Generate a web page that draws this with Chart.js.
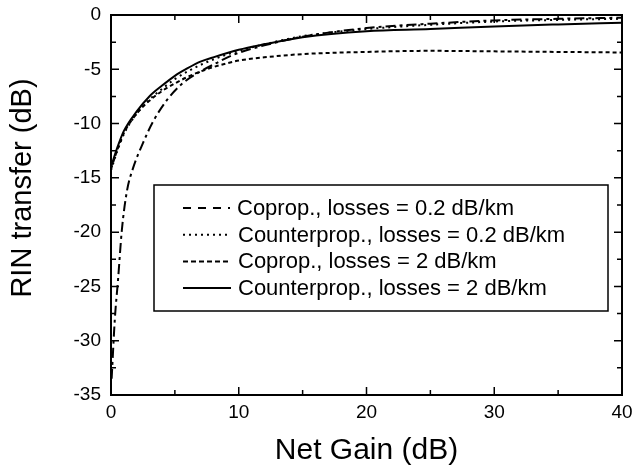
<!DOCTYPE html>
<html>
<head>
<meta charset="utf-8">
<script src="https://cdn.jsdelivr.net/npm/chart.js@4"></script>
<style>
  html, body { margin: 0; padding: 0; background: #fff; }
  #wrap { width: 635px; height: 471px; }
</style>
</head>
<body>
<div id="wrap"><canvas id="c"></canvas></div>
<script>
// net gain (dB) sampling for the three smooth curves
const gain = [0, 0.5, 1, 2, 3, 4, 5, 6, 7, 8, 10, 12, 15, 20, 25, 30, 35, 40];
// steep coprop 0.2 dB/km curve is sampled finer near zero
const gainSteep = [0.05, 0.3, 0.55, 0.85, 1.25, 1.7, 2.5, 3.3, 4.4, 5.6, 7, 8.3, 9.5, 12, 15, 20, 25, 30, 35, 40];

const rinCoprop02 = [-33.5, -28, -24.4, -19.8, -16.2, -14.2, -11.8, -9.8, -7.8, -6.3, -5.2, -4.4, -3.7, -2.8, -2.0, -1.2, -0.8, -0.5, -0.35, -0.25];
const rinCounter02 = [-14.3, -12.5, -11.0, -9.1, -7.8, -6.8, -5.9, -5.2, -4.6, -4.1, -3.3, -2.7, -1.95, -1.3, -0.9, -0.6, -0.45, -0.35];
const rinCoprop2 = [-14.2, -12.4, -10.9, -9.1, -7.9, -7.0, -6.3, -5.7, -5.2, -4.8, -4.2, -3.9, -3.6, -3.4, -3.3, -3.35, -3.4, -3.45];
const rinCounter2 = [-14.0, -12.2, -10.7, -8.9, -7.5, -6.5, -5.6, -4.9, -4.3, -3.9, -3.2, -2.7, -2.05, -1.5, -1.3, -1.05, -0.87, -0.72];

const labels = [
  'Coprop., losses = 0.2 dB/km',
  'Counterprop., losses = 0.2 dB/km',
  'Coprop., losses = 2 dB/km',
  'Counterprop., losses = 2 dB/km'
];

const xTicks = [0, 10, 20, 30, 40];
const yTicks = [0, -5, -10, -15, -20, -25, -30, -35];
const yTitle = 'RIN transfer (dB)';

const FONT = '"Liberation Sans", Arial, sans-serif';

function pts(xs, ys) {
  return xs.map((x, i) => ({ x: x, y: ys[i] }));
}

function serie(label, xs, ys, dash, legendDash, sampleEnd) {
  return {
    label: label,
    data: pts(xs, ys),
    showLine: true,
    borderColor: '#000',
    borderWidth: 2,
    borderDash: dash,
    legendDash: legendDash,
    sampleEnd: sampleEnd,
    pointRadius: 0,
    cubicInterpolationMode: 'monotone',
    fill: false
  };
}

// marco, ticks hacia dentro, título Y y leyenda dentro del área
const framePlugin = {
  id: 'frame',
  afterDraw(chart) {
    const ctx = chart.ctx;
    const a = chart.chartArea;
    const sx = chart.scales.x, sy = chart.scales.y;
    ctx.save();
    ctx.strokeStyle = '#000';
    ctx.lineWidth = 2;
    ctx.setLineDash([]);
    ctx.strokeRect(a.left, a.top, a.right - a.left, a.bottom - a.top);
    ctx.lineWidth = 1.5;
    for (let v = 0; v <= 40; v += 5) {
      const px = sx.getPixelForValue(v);
      const len = v % 10 === 0 ? 8 : 5;
      ctx.beginPath();
      ctx.moveTo(px, a.bottom); ctx.lineTo(px, a.bottom - len);
      ctx.moveTo(px, a.top); ctx.lineTo(px, a.top + len);
      ctx.stroke();
    }
    for (let v = 0; v >= -35; v -= 2.5) {
      const py = sy.getPixelForValue(v);
      const len = v % 5 === 0 ? 8 : 5;
      ctx.beginPath();
      ctx.moveTo(a.left, py); ctx.lineTo(a.left + len, py);
      ctx.moveTo(a.right, py); ctx.lineTo(a.right - len, py);
      ctx.stroke();
    }
    // título del eje Y (algo por encima del centro, como en el original)
    ctx.fillStyle = '#000';
    ctx.font = '29px ' + FONT;
    ctx.textAlign = 'center';
    ctx.textBaseline = 'middle';
    ctx.translate(23, 188);
    ctx.rotate(-Math.PI / 2);
    ctx.fillText(yTitle, 0, 0);
    ctx.setTransform(1, 0, 0, 1, 0, 0);
    ctx.scale(chart.currentDevicePixelRatio, chart.currentDevicePixelRatio);
    // leyenda
    const bx = 154, by = 185, bw = 454, bh = 126;
    ctx.lineWidth = 1.5;
    ctx.fillStyle = '#fff';
    ctx.fillRect(bx, by, bw, bh);
    ctx.strokeRect(bx, by, bw, bh);
    ctx.font = '22px ' + FONT;
    ctx.textAlign = 'left';
    ctx.textBaseline = 'middle';
    ctx.fillStyle = '#000';
    chart.data.datasets.forEach((ds, i) => {
      const y = by + 23 + i * 26.7;
      ctx.lineWidth = 2;
      ctx.setLineDash(ds.legendDash);
      ctx.beginPath();
      ctx.moveTo(183, y); ctx.lineTo(ds.sampleEnd, y);
      ctx.stroke();
      ctx.setLineDash([]);
      ctx.fillText(ds.label, ds.sampleEnd + 7, y + 1);
    });
    ctx.restore();
  }
};

new Chart(document.getElementById('c'), {
  type: 'scatter',
  data: {
    datasets: [
      serie(labels[0], gainSteep, rinCoprop02, [10, 4, 3, 4], [8, 7], 230),
      serie(labels[1], gain, rinCounter02, [2, 4], [2, 4], 231),
      serie(labels[2], gain, rinCoprop2, [4, 3], [5, 3], 231),
      serie(labels[3], gain, rinCounter2, [], [], 231)
    ]
  },
  options: {
    responsive: true,
    maintainAspectRatio: false,
    animation: false,
    layout: { padding: { top: 15, right: 13, left: 0, bottom: 0 } },
    plugins: { legend: { display: false }, tooltip: { enabled: false } },
    scales: {
      x: {
        type: 'linear',
        min: 0, max: 40,
        afterBuildTicks: s => { s.ticks = xTicks.map(v => ({ value: v })); },
        afterFit: s => { s.height = 76; s.paddingLeft = 0; s.paddingRight = 0; },
        grid: { display: false, drawTicks: false },
        border: { display: false },
        ticks: { color: '#000', padding: 6, font: { family: FONT, size: 19 } },
        title: { display: true, text: 'Net Gain (dB)', color: '#000', padding: { top: 4, bottom: 2 }, font: { family: FONT, size: 30 } }
      },
      y: {
        type: 'linear',
        min: -35, max: 0,
        afterBuildTicks: s => { s.ticks = yTicks.map(v => ({ value: v })); },
        afterFit: s => { s.width = 111; s.paddingTop = 0; s.paddingBottom = 0; },
        grid: { display: false, drawTicks: false },
        border: { display: false },
        ticks: { color: '#000', padding: 10, font: { family: FONT, size: 19 } }
      }
    }
  },
  plugins: [framePlugin]
});
</script>
</body>
</html>
